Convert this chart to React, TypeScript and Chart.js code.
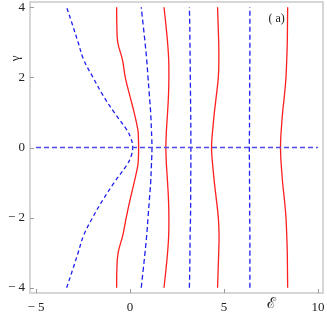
import React, { useEffect, useRef } from "react";
import { Chart, registerables } from "chart.js";

Chart.register(...registerables);

// y positions at which each curve is sampled
const yLevels = [-4, -3.5, -3, -2.5, -2, -1.5, -1, -0.5, -0.25, 0, 0.25, 0.5, 1, 1.5, 2, 2.5, 3, 3.5, 4];

// x values of each curve at those y positions
const blueA = [-3.37, -3.06, -2.76, -2.46, -1.99, -1.45, -0.84, -0.17, 0.06, 0.14, 0.06, -0.17, -0.84, -1.45, -1.97, -2.46, -2.76, -3.06, -3.37];
const redA = [-0.71, -0.7, -0.63, -0.38, -0.2, 0.0, 0.22, 0.42, 0.45, 0.46, 0.45, 0.42, 0.22, -0.02, -0.25, -0.4, -0.65, -0.7, -0.71];
const blueB = [0.6, 0.7, 0.8, 0.89, 0.96, 1.03, 1.1, 1.14, 1.16, 1.17, 1.16, 1.14, 1.1, 1.03, 0.96, 0.89, 0.8, 0.7, 0.6];
const redB = [1.81, 1.91, 2.0, 2.06, 2.07, 2.05, 2.0, 1.94, 1.92, 1.91, 1.92, 1.94, 2.0, 2.05, 2.07, 2.06, 2.0, 1.91, 1.81];
const blueC = [3.16, 3.18, 3.19, 3.2, 3.22, 3.23, 3.23, 3.24, 3.24, 3.24, 3.24, 3.24, 3.23, 3.22, 3.21, 3.2, 3.19, 3.18, 3.16];
const redC = [4.66, 4.69, 4.72, 4.74, 4.7, 4.6, 4.49, 4.4, 4.36, 4.34, 4.36, 4.4, 4.49, 4.6, 4.7, 4.73, 4.72, 4.69, 4.66];
const blueD = [6.38, 6.38, 6.38, 6.38, 6.37, 6.37, 6.36, 6.36, 6.35, 6.35, 6.35, 6.36, 6.36, 6.37, 6.37, 6.38, 6.38, 6.38, 6.38];
const redD = [8.39, 8.38, 8.37, 8.34, 8.3, 8.22, 8.12, 8.05, 8.02, 8.01, 8.02, 8.05, 8.12, 8.22, 8.3, 8.34, 8.37, 8.38, 8.39];

// horizontal dashed line at gamma = 0
const hLineX = [-5, 10];
const hLineY = [0, 0];

const xTicks = [-5, 0, 5, 10];
const yTicks = [-4, -2, 0, 2, 4];
const xRange = [-5.32, 10.27];
const yRange = [-4.15, 4.15];

const RED = "#ff1f1f";
const BLUE = "#1f1fef";
const HBLUE = "#4a4aee";

const toPts = (xs: number[], ys: number[]) => xs.map((x, i) => ({ x, y: ys[i] }));

const fmt = (v: number) => (v < 0 ? "\u2212 " + Math.abs(v) : String(v));

const framePlugin = {
  id: "frame",
  afterDraw(chart: any) {
    const { ctx, chartArea: a, scales } = chart;
    ctx.save();
    ctx.strokeStyle = "#d6d6d6";
    ctx.lineWidth = 2;
    ctx.strokeRect(a.left, a.top, a.right - a.left, a.bottom - a.top);
    ctx.strokeStyle = "#9a9a9a";
    ctx.lineWidth = 1;
    ctx.beginPath();
    xTicks.forEach((v) => {
      const px = Math.round(scales.x.getPixelForValue(v)) + 0.5;
      ctx.moveTo(px, a.bottom);
      ctx.lineTo(px, a.bottom - 4);
    });
    yTicks.forEach((v) => {
      const py = Math.round(scales.y.getPixelForValue(v)) + 0.5;
      ctx.moveTo(a.left, py);
      ctx.lineTo(a.left + 4, py);
    });
    ctx.stroke();
    ctx.fillStyle = "#222";
    ctx.textAlign = "center";
    ctx.textBaseline = "middle";
    ctx.font = "12px 'Liberation Serif', serif";
    ctx.fillText("( a)", scales.x.getPixelForValue(7.8), scales.y.getPixelForValue(3.68));
    ctx.font = "15px 'DejaVu Serif', serif";
    ctx.fillText("\u2130", scales.x.getPixelForValue(7.55), 304);
    ctx.translate(16, scales.y.getPixelForValue(2.54));
    ctx.rotate(-Math.PI / 2);
    ctx.font = "13px 'Liberation Serif', serif";
    ctx.fillText("\u03b3", 0, 0);
    ctx.restore();
  },
};

export default function App() {
  const ref = useRef<HTMLCanvasElement | null>(null);
  useEffect(() => {
    document.body.style.margin = "0";
    const common = { showLine: true, pointRadius: 0, borderWidth: 1.3, tension: 0.4, fill: false };
    const chart = new Chart(ref.current as HTMLCanvasElement, {
      type: "scatter",
      data: {
        datasets: [
          { ...common, data: toPts(hLineX, hLineY), borderColor: HBLUE, borderDash: [5, 3], tension: 0 },
          { ...common, data: toPts(blueA, yLevels), borderColor: BLUE, borderDash: [4, 3] },
          { ...common, data: toPts(redA, yLevels), borderColor: RED },
          { ...common, data: toPts(blueB, yLevels), borderColor: BLUE, borderDash: [5, 3] },
          { ...common, data: toPts(redB, yLevels), borderColor: RED },
          { ...common, data: toPts(blueC, yLevels), borderColor: BLUE, borderDash: [5, 3] },
          { ...common, data: toPts(redC, yLevels), borderColor: RED },
          { ...common, data: toPts(blueD, yLevels), borderColor: BLUE, borderDash: [5, 3] },
          { ...common, data: toPts(redD, yLevels), borderColor: RED },
        ],
      },
      options: {
        animation: false,
        responsive: false,
        layout: { padding: { top: 2, right: 4, left: 0, bottom: 0 } },
        plugins: { legend: { display: false }, tooltip: { enabled: false } },
        scales: {
          x: {
            type: "linear",
            min: xRange[0],
            max: xRange[1],
            grid: { display: false, drawTicks: false },
            border: { display: false },
            afterBuildTicks: (s: any) => {
              s.ticks = xTicks.map((v) => ({ value: v }));
            },
            afterFit: (s: any) => {
              s.height = 34;
              s.paddingLeft = 0;
              s.paddingRight = 0;
            },
            ticks: {
              padding: 7,
              color: "#222",
              font: { family: "'Liberation Serif', serif", size: 13 },
              callback: (v: any) => fmt(Number(v)),
              maxRotation: 0,
            },
          },
          y: {
            type: "linear",
            min: yRange[0],
            max: yRange[1],
            grid: { display: false, drawTicks: false },
            border: { display: false },
            afterBuildTicks: (s: any) => {
              s.ticks = yTicks.map((v) => ({ value: v }));
            },
            afterFit: (s: any) => {
              s.width = 30;
              s.paddingTop = 0;
              s.paddingBottom = 0;
            },
            ticks: {
              padding: 5,
              color: "#222",
              font: { family: "'Liberation Serif', serif", size: 13 },
              callback: (v: any) => fmt(Number(v)),
            },
          },
        },
      },
      plugins: [framePlugin],
    });
    return () => chart.destroy();
  }, []);
  return (
    <div style={{ width: 327, height: 327 }}>
      <canvas ref={ref} width={327} height={327} />
    </div>
  );
}
